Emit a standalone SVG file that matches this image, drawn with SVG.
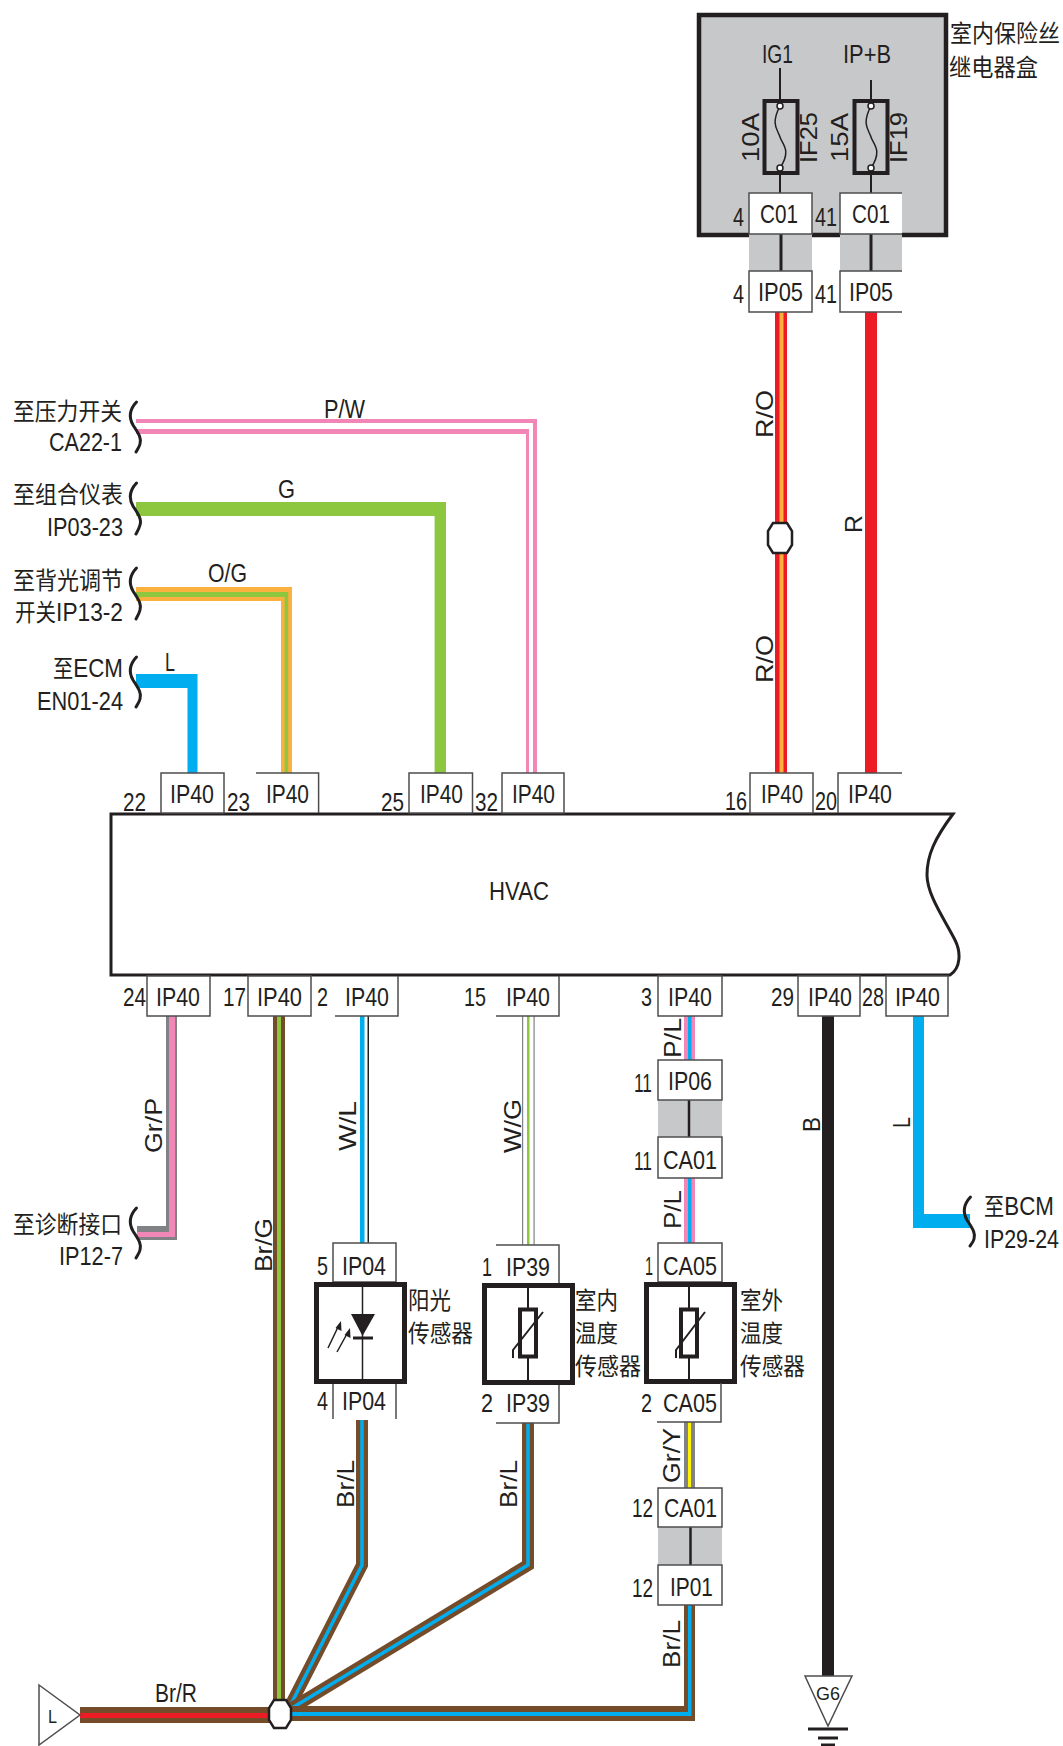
<svg xmlns="http://www.w3.org/2000/svg" width="1063" height="1746" viewBox="0 0 1063 1746">
<style>
text{font-family:"Liberation Sans","Noto Sans CJK SC",sans-serif;font-size:26.500px;fill:#231f20}
.c{font-size:24px}
.m{font-size:26.500px}
.r{font-size:24.500px}
.s{font-size:18px}
.b{fill:#fff;stroke:#4d4d4f;stroke-width:1.5}
.o{fill:none;stroke:#4d4d4f;stroke-width:1.5}
.g{fill:#c7c8ca}
.k{fill:none;stroke:#231f20;stroke-linecap:butt}
.h{fill:none;stroke:#231f20;stroke-width:3;stroke-linecap:round}
.sen{fill:#fff;stroke:#231f20;stroke-width:5}
.pink{fill:#f287b7}.green{fill:#8dc63f}.orange{fill:#fbb040}.blue{fill:#00aeef}.brown{fill:#754c29}.red{fill:#ed1c24}.gray{fill:#808285}.black{fill:#231f20}.yellow{fill:#fff200}
.wbrown{fill:none;stroke:#754c29;stroke-width:12}
.wblue{fill:none;stroke:#00aeef;stroke-width:3.5}
</style>
<rect width="1063" height="1746" fill="#fff"/>
<g id="connectors">
<path class="pink" d="M136,419H537V773H533V423H136Z"/>
<path class="pink" d="M136,429H529V773H526V434H136Z"/>
<path class="green" d="M136,502H446V773H434.6V516H136Z"/>
<path class="orange" d="M136,587H292V773H281V601H136Z"/>
<path class="green" d="M136,592H288.2V773H284.6V597H136Z"/>
<path class="blue" d="M136,674H197.5V773H187.5V688H136Z"/>
<rect class="red" x="775" y="312" width="12" height="461"/>
<rect class="orange" x="779.5" y="312" width="4" height="461"/>
<rect class="red" x="865" y="312" width="12" height="461"/>
<path class="gray" d="M166,1016H177V1240H137V1226H166Z"/>
<path class="pink" d="M169,1016H175V1237H137V1232H169Z"/>
<rect class="brown" x="273" y="1016" width="12" height="690"/>
<rect class="green" x="277" y="1016" width="4" height="690"/>
<rect class="blue" x="360" y="1016" width="4.5" height="227"/>
<rect class="black" x="367.5" y="1016" width="1.5" height="227"/>
<rect class="gray" x="522" y="1016" width="1.2" height="229"/>
<rect class="green" x="527" y="1016" width="2.5" height="229"/>
<rect class="gray" x="533.5" y="1016" width="1.2" height="229"/>
<rect class="pink" x="684" y="1016" width="11" height="44"/>
<rect class="blue" x="688" y="1016" width="3.5" height="44"/>
<rect class="pink" x="684" y="1178" width="11" height="65"/>
<rect class="blue" x="688" y="1178" width="3.5" height="65"/>
<rect class="black" x="822" y="1016" width="12" height="660"/>
<path class="blue" d="M913,1016H924V1214H970V1228H913Z"/>
<rect class="gray" x="684" y="1422" width="11" height="66"/>
<rect class="yellow" x="688" y="1422" width="3" height="66"/>
<path class="wbrown" d="M362,1420V1565L288,1710"/>
<path class="wblue" d="M362,1420V1565L288,1710"/>
<path class="wbrown" d="M528,1423V1565L292,1708"/>
<path class="wblue" d="M528,1423V1565L292,1708"/>
<path class="brown" d="M290,1706H684V1605H695V1721H290Z"/>
<path class="blue" d="M290,1712H688V1605H691.5V1716H290Z"/>
<rect class="brown" x="80" y="1707" width="190" height="16"/>
<rect class="red" x="80" y="1713" width="190" height="5"/>
</g>
<g id="wire-labels">
<text x="324" y="418" textLength="41" lengthAdjust="spacingAndGlyphs">P/W</text>
<text x="278" y="498" textLength="17" lengthAdjust="spacingAndGlyphs">G</text>
<text x="208" y="582" textLength="39" lengthAdjust="spacingAndGlyphs">O/G</text>
<text x="165" y="671" textLength="10" lengthAdjust="spacingAndGlyphs">L</text>
<text x="155" y="1702" textLength="42" lengthAdjust="spacingAndGlyphs">Br/R</text>
<text class="r" transform="rotate(-90 773 438)" x="773" y="438" textLength="48" lengthAdjust="spacingAndGlyphs">R/O</text>
<text class="r" transform="rotate(-90 773 683)" x="773" y="683" textLength="48" lengthAdjust="spacingAndGlyphs">R/O</text>
<text class="r" transform="rotate(-90 862 533)" x="862" y="533" textLength="18" lengthAdjust="spacingAndGlyphs">R</text>
<text class="r" transform="rotate(-90 162 1153)" x="162" y="1153" textLength="55" lengthAdjust="spacingAndGlyphs">Gr/P</text>
<text class="r" transform="rotate(-90 272 1272)" x="272" y="1272" textLength="54" lengthAdjust="spacingAndGlyphs">Br/G</text>
<text class="r" transform="rotate(-90 356 1151)" x="356" y="1151" textLength="50" lengthAdjust="spacingAndGlyphs">W/L</text>
<text class="r" transform="rotate(-90 521 1153)" x="521" y="1153" textLength="54" lengthAdjust="spacingAndGlyphs">W/G</text>
<text class="r" transform="rotate(-90 681 1058)" x="681" y="1058" textLength="40" lengthAdjust="spacingAndGlyphs">P/L</text>
<text class="r" transform="rotate(-90 681 1229)" x="681" y="1229" textLength="39" lengthAdjust="spacingAndGlyphs">P/L</text>
<text class="r" transform="rotate(-90 820 1132)" x="820" y="1132" textLength="15" lengthAdjust="spacingAndGlyphs">B</text>
<text class="r" transform="rotate(-90 910 1128)" x="910" y="1128" textLength="11" lengthAdjust="spacingAndGlyphs">L</text>
<text class="r" transform="rotate(-90 354 1508)" x="354" y="1508" textLength="48" lengthAdjust="spacingAndGlyphs">Br/L</text>
<text class="r" transform="rotate(-90 517 1508)" x="517" y="1508" textLength="48" lengthAdjust="spacingAndGlyphs">Br/L</text>
<text class="r" transform="rotate(-90 680 1483)" x="680" y="1483" textLength="55" lengthAdjust="spacingAndGlyphs">Gr/Y</text>
<text class="r" transform="rotate(-90 680 1668)" x="680" y="1668" textLength="48" lengthAdjust="spacingAndGlyphs">Br/L</text>
</g>
<g id="fuse-box">
<rect x="699" y="15" width="247" height="220" fill="#c7c8ca" stroke="#231f20" stroke-width="4.5"/>
<path class="k" stroke-width="2" d="M780,68V100M780,174V193M871,80V100M871,174V193"/>
<g fill="none" stroke="#231f20">
<rect x="764.500" y="101" width="33" height="72" stroke-width="4"/>
<rect x="854.500" y="101" width="33" height="72" stroke-width="4"/>
<path stroke-width="1.500" d="M780,106C770,125 778,130 780,137S792,150 780,168M871,106C861,125 869,130 871,137S883,150 871,168"/>
</g>
<g fill="#fff" stroke="#231f20" stroke-width="1.500">
<circle cx="780" cy="106" r="3"/><circle cx="780" cy="168" r="3"/><circle cx="871" cy="106" r="3"/><circle cx="871" cy="168" r="3"/>
</g>
<text x="762" y="63" textLength="31" lengthAdjust="spacingAndGlyphs">IG1</text>
<text x="843" y="63" textLength="48" lengthAdjust="spacingAndGlyphs">IP+B</text>
<text class="r" transform="rotate(-90 759 162)" x="759" y="162" textLength="49" lengthAdjust="spacingAndGlyphs">10A</text>
<text class="r" transform="rotate(-90 817 163)" x="817" y="163" textLength="51" lengthAdjust="spacingAndGlyphs">IF25</text>
<text class="r" transform="rotate(-90 848 162)" x="848" y="162" textLength="49" lengthAdjust="spacingAndGlyphs">15A</text>
<text class="r" transform="rotate(-90 907 163)" x="907" y="163" textLength="51" lengthAdjust="spacingAndGlyphs">IF19</text>
<text class="c" transform="translate(950 42) scale(.917 1)">室内保险丝</text>
<text class="c" x="949" y="76" textLength="89" lengthAdjust="spacingAndGlyphs">继电器盒</text>
</g>
<g id="conn-c01-ip05">
<rect class="g" x="749" y="234" width="63" height="37"/>
<rect class="g" x="840" y="234" width="62" height="37"/>
<path class="k" stroke-width="3" d="M781,234V271M871,234V271"/>
<rect class="b" x="749" y="193" width="63" height="41"/>
<rect x="840" y="193" width="62" height="41" fill="#fff"/>
<path class="o" d="M902,193H840V234H902"/>
<rect class="b" x="749" y="271" width="63" height="41"/>
<rect x="840" y="271" width="62" height="41" fill="#fff"/>
<path class="o" d="M902,271H840V312H902"/>
<text x="760" y="223" textLength="38" lengthAdjust="spacingAndGlyphs">C01</text>
<text x="852" y="223" textLength="38" lengthAdjust="spacingAndGlyphs">C01</text>
<text x="733" y="226" textLength="11" lengthAdjust="spacingAndGlyphs">4</text>
<text x="815" y="226" textLength="22" lengthAdjust="spacingAndGlyphs">41</text>
<text x="758" y="301" textLength="45" lengthAdjust="spacingAndGlyphs">IP05</text>
<text x="849" y="301" textLength="44" lengthAdjust="spacingAndGlyphs">IP05</text>
<text x="733" y="303" textLength="11" lengthAdjust="spacingAndGlyphs">4</text>
<text x="815" y="303" textLength="22" lengthAdjust="spacingAndGlyphs">41</text>
</g>
<g id="hvac">
<path fill="#fff" stroke="#231f20" stroke-width="3" d="M111,814H953C935,838 927,855 927,875C927,895 945,920 955,940C961,952 961,968 950,975H111Z"/>
<text x="489" y="900" textLength="60" lengthAdjust="spacingAndGlyphs">HVAC</text>
</g>
<g id="ip40-top">
<rect class="b" x="161" y="773" width="63" height="40"/>
<path class="o" d="M256,773H318.600V813"/>
<rect class="b" x="409" y="773" width="63.500" height="40"/>
<rect class="b" x="502" y="773" width="62" height="40"/>
<rect class="b" x="750" y="773" width="63" height="40"/>
<path class="o" d="M902,773H838V813"/>
<text x="170" y="803" textLength="44" lengthAdjust="spacingAndGlyphs">IP40</text>
<text x="266" y="803" textLength="43" lengthAdjust="spacingAndGlyphs">IP40</text>
<text x="420" y="803" textLength="43" lengthAdjust="spacingAndGlyphs">IP40</text>
<text x="512" y="803" textLength="43" lengthAdjust="spacingAndGlyphs">IP40</text>
<text x="761" y="803" textLength="42" lengthAdjust="spacingAndGlyphs">IP40</text>
<text x="848" y="803" textLength="44" lengthAdjust="spacingAndGlyphs">IP40</text>
<text x="123" y="811" textLength="23" lengthAdjust="spacingAndGlyphs">22</text>
<text x="227" y="811" textLength="23" lengthAdjust="spacingAndGlyphs">23</text>
<text x="381" y="811" textLength="23" lengthAdjust="spacingAndGlyphs">25</text>
<text x="475" y="811" textLength="23" lengthAdjust="spacingAndGlyphs">32</text>
<text x="725" y="810" textLength="22" lengthAdjust="spacingAndGlyphs">16</text>
<text x="815" y="810" textLength="22" lengthAdjust="spacingAndGlyphs">20</text>
</g>
<g id="ip40-bottom">
<rect class="b" x="147" y="976" width="63" height="40"/>
<rect class="b" x="248" y="976" width="63" height="40"/>
<path class="o" d="M398,976V1016H335"/>
<path class="o" d="M559,976V1016H496"/>
<rect class="b" x="658" y="976" width="64" height="40"/>
<rect class="b" x="798" y="976" width="62" height="40"/>
<rect class="b" x="886" y="976" width="62" height="40"/>
<text x="156" y="1006" textLength="44" lengthAdjust="spacingAndGlyphs">IP40</text>
<text x="257" y="1006" textLength="45" lengthAdjust="spacingAndGlyphs">IP40</text>
<text x="345" y="1006" textLength="44" lengthAdjust="spacingAndGlyphs">IP40</text>
<text x="506" y="1006" textLength="44" lengthAdjust="spacingAndGlyphs">IP40</text>
<text x="668" y="1006" textLength="44" lengthAdjust="spacingAndGlyphs">IP40</text>
<text x="808" y="1006" textLength="44" lengthAdjust="spacingAndGlyphs">IP40</text>
<text x="895" y="1006" textLength="45" lengthAdjust="spacingAndGlyphs">IP40</text>
<text x="123" y="1006" textLength="23" lengthAdjust="spacingAndGlyphs">24</text>
<text x="223" y="1006" textLength="23" lengthAdjust="spacingAndGlyphs">17</text>
<text x="317" y="1006" textLength="11" lengthAdjust="spacingAndGlyphs">2</text>
<text x="464" y="1006" textLength="22" lengthAdjust="spacingAndGlyphs">15</text>
<text x="641" y="1006" textLength="11" lengthAdjust="spacingAndGlyphs">3</text>
<text x="771" y="1006" textLength="23" lengthAdjust="spacingAndGlyphs">29</text>
<text x="862" y="1006" textLength="22" lengthAdjust="spacingAndGlyphs">28</text>
</g>
<g id="conn-ip06-ca01">
<rect class="g" x="658" y="1100" width="64" height="37"/>
<path class="k" stroke-width="2.500" d="M689,1100V1137"/>
<rect class="b" x="658" y="1060" width="64" height="40"/>
<rect class="b" x="658" y="1137" width="64" height="41"/>
<text x="668" y="1090" textLength="44" lengthAdjust="spacingAndGlyphs">IP06</text>
<text x="663" y="1169" textLength="54" lengthAdjust="spacingAndGlyphs">CA01</text>
<text x="634" y="1092" textLength="18" lengthAdjust="spacingAndGlyphs">11</text>
<text x="634" y="1170" textLength="18" lengthAdjust="spacingAndGlyphs">11</text>
</g>
<g id="sun-sensor">
<rect class="b" x="333" y="1243" width="63" height="39"/>
<rect class="sen" x="316.500" y="1284.500" width="88" height="97"/>
<path class="k" stroke-width="1.500" d="M362.500,1284V1382"/>
<path class="black" d="M351,1314H375L362.500,1336Z"/>
<path class="k" stroke-width="3" d="M353,1338H373"/>
<path class="k" stroke-width="1.500" d="M328,1348L339,1325M337,1352L348,1332"/>
<path class="black" d="M341,1321L341.500,1331L335.500,1328ZM350,1328L350.500,1338L344.500,1335Z"/>
<path class="o" d="M333,1384V1419M396,1384V1419"/>
<text x="342" y="1275" textLength="44" lengthAdjust="spacingAndGlyphs">IP04</text>
<text x="342" y="1410" textLength="44" lengthAdjust="spacingAndGlyphs">IP04</text>
<text x="317" y="1275" textLength="11" lengthAdjust="spacingAndGlyphs">5</text>
<text x="317" y="1410" textLength="11" lengthAdjust="spacingAndGlyphs">4</text>
<text class="c" x="408" y="1309" textLength="43" lengthAdjust="spacingAndGlyphs">阳光</text>
<text class="c" x="408" y="1342" textLength="65" lengthAdjust="spacingAndGlyphs">传感器</text>
</g>
<g id="indoor-temp-sensor">
<path class="o" d="M496,1245H559V1283"/>
<rect class="sen" x="484.500" y="1285.500" width="88" height="97"/>
<path class="k" stroke-width="2" d="M528,1285V1384"/>
<rect x="520" y="1309.500" width="16" height="47" fill="#fff" stroke="#231f20" stroke-width="4"/>
<path class="k" stroke-width="2" d="M513,1358V1350L543,1312"/>
<path class="o" d="M559,1385V1423H496"/>
<text x="506" y="1276" textLength="44" lengthAdjust="spacingAndGlyphs">IP39</text>
<text x="506" y="1412" textLength="44" lengthAdjust="spacingAndGlyphs">IP39</text>
<text x="482" y="1276" textLength="10" lengthAdjust="spacingAndGlyphs">1</text>
<text x="481" y="1412" textLength="12" lengthAdjust="spacingAndGlyphs">2</text>
<text class="c" x="575" y="1309" textLength="43" lengthAdjust="spacingAndGlyphs">室内</text>
<text class="c" x="575" y="1342" textLength="43" lengthAdjust="spacingAndGlyphs">温度</text>
<text class="c" x="575" y="1375" textLength="66" lengthAdjust="spacingAndGlyphs">传感器</text>
</g>
<g id="outdoor-temp-sensor">
<rect class="b" x="658" y="1243" width="64" height="39"/>
<rect class="sen" x="646.500" y="1284.500" width="88" height="97"/>
<path class="k" stroke-width="2" d="M689,1284V1383"/>
<rect x="681" y="1309.500" width="16" height="47" fill="#fff" stroke="#231f20" stroke-width="4"/>
<path class="k" stroke-width="2" d="M676,1358V1350L705,1312"/>
<path class="o" d="M721,1383V1422H657"/>
<text x="663" y="1275" textLength="54" lengthAdjust="spacingAndGlyphs">CA05</text>
<text x="663" y="1412" textLength="54" lengthAdjust="spacingAndGlyphs">CA05</text>
<text x="645" y="1275" textLength="8" lengthAdjust="spacingAndGlyphs">1</text>
<text x="641" y="1412" textLength="11" lengthAdjust="spacingAndGlyphs">2</text>
<text class="c" x="740" y="1309" textLength="43" lengthAdjust="spacingAndGlyphs">室外</text>
<text class="c" x="740" y="1342" textLength="43" lengthAdjust="spacingAndGlyphs">温度</text>
<text class="c" x="740" y="1375" textLength="65" lengthAdjust="spacingAndGlyphs">传感器</text>
</g>
<g id="conn-ca01-ip01">
<rect class="g" x="658" y="1527" width="64" height="38"/>
<path class="k" stroke-width="2.500" d="M690.500,1527V1565"/>
<rect class="b" x="658" y="1488" width="64" height="39"/>
<rect class="b" x="658" y="1565" width="64" height="40"/>
<text x="664" y="1517" textLength="53" lengthAdjust="spacingAndGlyphs">CA01</text>
<text x="670" y="1596" textLength="43" lengthAdjust="spacingAndGlyphs">IP01</text>
<text x="632" y="1517" textLength="21" lengthAdjust="spacingAndGlyphs">12</text>
<text x="632" y="1597" textLength="21" lengthAdjust="spacingAndGlyphs">12</text>
</g>
<g id="splices">
<path fill="#fff" stroke="#231f20" stroke-width="2.500" d="M773,523H787L792,531V545L787,553H773L768,545V531Z"/>
<path fill="#fff" stroke="#231f20" stroke-width="2.500" d="M274,1700H286L291,1708V1720L286,1728H274L269,1720V1708Z"/>
</g>
<g id="harness-l">
<path fill="#fff" stroke="#4d4d4f" stroke-width="1.500" d="M39,1685L80,1715L39,1745Z"/>
<text class="s" x="48" y="1723" textLength="9" lengthAdjust="spacingAndGlyphs">L</text>
</g>
<g id="ground-g6">
<path fill="#fff" stroke="#4d4d4f" stroke-width="1.500" d="M805,1676H852L828,1726Z"/>
<text class="s" x="816" y="1700" textLength="24" lengthAdjust="spacingAndGlyphs">G6</text>
<path class="k" stroke-width="3" d="M808,1729H848M818,1738H838M821,1745H835"/>
</g>
<g id="offpage-refs">
<path class="h" d="M136.500,402C129,410 129,418 133,425C138,433 142,438 140,444C139,448 137,450 136,452"/>
<path class="h" d="M136.500,483C129,491 129,499 133,506C138,514 142,519 140,525C139,529 137,532 136,534"/>
<path class="h" d="M136.500,568C129,576 129,584 133,591C138,599 142,604 140,610C139,614 137,617 136,619"/>
<path class="h" d="M136.500,657C129,665 129,673 133,680C138,688 142,693 140,699C139,703 137,705 136,707"/>
<path class="h" d="M136.500,1208C129,1216 129,1224 133,1231C138,1239 142,1244 140,1250C139,1254 137,1256 136,1258"/>
<path class="h" d="M970.500,1197C963,1205 963,1213 967,1220C972,1228 976,1233 974,1239C973,1243 971,1244 970,1246"/>
<text class="c" x="13" y="420" textLength="109" lengthAdjust="spacingAndGlyphs">至压力开关</text>
<text x="49" y="451" textLength="73" lengthAdjust="spacingAndGlyphs">CA22-1</text>
<text class="c" x="13" y="503" textLength="110" lengthAdjust="spacingAndGlyphs">至组合仪表</text>
<text x="47" y="536" textLength="76" lengthAdjust="spacingAndGlyphs">IP03-23</text>
<text class="c" x="13" y="589" textLength="110" lengthAdjust="spacingAndGlyphs">至背光调节</text>
<text class="c" transform="translate(15 621) scale(.857 1)">开关<tspan class="m">IP13-2</tspan></text>
<text class="c" transform="translate(53 677) scale(.844 1)">至<tspan class="m">ECM</tspan></text>
<text x="37" y="710" textLength="86" lengthAdjust="spacingAndGlyphs">EN01-24</text>
<text class="c" x="13" y="1233" textLength="109" lengthAdjust="spacingAndGlyphs">至诊断接口</text>
<text x="59" y="1265" textLength="64" lengthAdjust="spacingAndGlyphs">IP12-7</text>
<text class="c" transform="translate(984 1215) scale(.844 1)">至<tspan class="m">BCM</tspan></text>
<text transform="translate(984 1248) scale(.808 1)">IP29-24</text>
</g>
</svg>
